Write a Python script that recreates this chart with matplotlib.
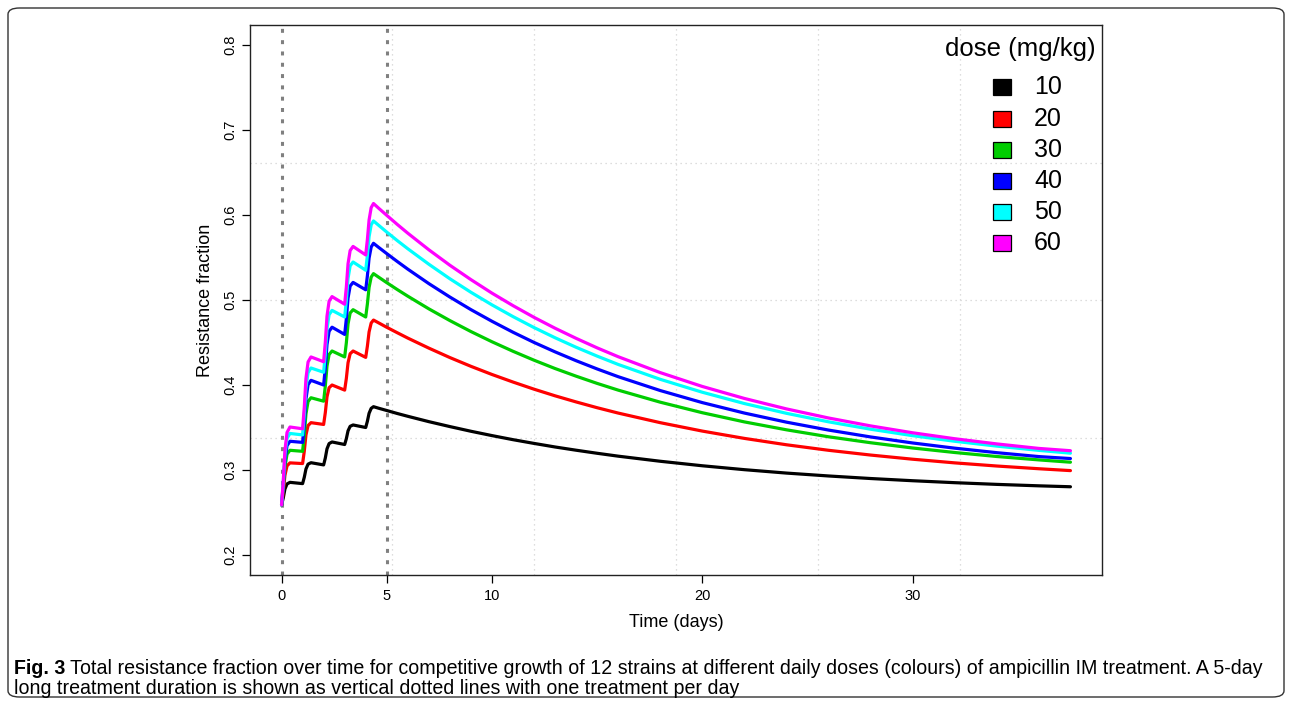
import matplotlib
matplotlib.use("Agg")
import matplotlib.pyplot as plt
from matplotlib.patches import FancyBboxPatch, Rectangle
from matplotlib import font_manager

# ---------------- data ----------------
time_days = [0.0, 0.08, 0.16, 0.26, 0.4,
             1.0, 1.08, 1.16, 1.26, 1.4,
             2.0, 2.08, 2.16, 2.26, 2.4,
             3.0, 3.08, 3.16, 3.26, 3.4,
             4.0, 4.08, 4.16, 4.26, 4.37,
             4.6, 5.0, 5.5, 6.0, 7.0, 8.0, 9.0, 10.0, 11.0, 12.0, 13.0, 14.0,
             15.0, 16.0, 18.0, 20.0, 22.0, 24.0, 26.0, 28.0, 30.0, 32.0, 34.0,
             36.0, 37.5]

frac_10 = [0.259, 0.267, 0.2776, 0.2836, 0.2855,
           0.284, 0.2914, 0.3012, 0.3069, 0.3086,
           0.306, 0.3141, 0.3249, 0.3311, 0.333,
           0.330, 0.3369, 0.3461, 0.3514, 0.353,
           0.350, 0.3574, 0.3667, 0.3725, 0.3745,
           0.3728, 0.3700, 0.3665, 0.3632, 0.3569, 0.3511, 0.3456, 0.3405, 0.3357,
           0.3313, 0.3271, 0.3233, 0.3197, 0.3163, 0.3103, 0.3050, 0.3004, 0.2964,
           0.2930, 0.2900, 0.2874, 0.2851, 0.2831, 0.2814, 0.2803]
frac_20 = [0.259, 0.2738, 0.2936, 0.3049, 0.3084,
           0.3076, 0.322, 0.3413, 0.3523, 0.3557,
           0.3536, 0.3675, 0.3861, 0.3968, 0.400,
           0.394, 0.4078, 0.4262, 0.4368, 0.440,
           0.4325, 0.4457, 0.4624, 0.4729, 0.4764,
           0.4733, 0.4679, 0.4615, 0.4552, 0.4434, 0.4323, 0.4220, 0.4124, 0.4035,
           0.3951, 0.3873, 0.3801, 0.3733, 0.3670, 0.3557, 0.3458, 0.3372, 0.3297,
           0.3232, 0.3176, 0.3127, 0.3084, 0.3047, 0.3015, 0.2993]
frac_30 = [0.259, 0.2783, 0.3039, 0.3187, 0.3232,
           0.322, 0.3409, 0.3661, 0.3806, 0.385,
           0.381, 0.3987, 0.4223, 0.4359, 0.440,
           0.433, 0.4497, 0.4719, 0.4847, 0.4886,
           0.480, 0.4953, 0.5147, 0.5269, 0.531,
           0.5271, 0.5204, 0.5123, 0.5045, 0.4896, 0.4758, 0.4629, 0.4509, 0.4397,
           0.4292, 0.4194, 0.4104, 0.4019, 0.3940, 0.3798, 0.3674, 0.3566, 0.3473,
           0.3391, 0.3321, 0.3259, 0.3206, 0.3159, 0.3119, 0.3092]
frac_40 = [0.259, 0.2814, 0.3114, 0.3286, 0.3338,
           0.3325, 0.3544, 0.3836, 0.4004, 0.4055,
           0.400, 0.4204, 0.4476, 0.4632, 0.468,
           0.4595, 0.4779, 0.5023, 0.5164, 0.5207,
           0.512, 0.5284, 0.5492, 0.5623, 0.5667,
           0.5622, 0.5546, 0.5453, 0.5363, 0.5193, 0.5035, 0.4887, 0.4750, 0.4621,
           0.4501, 0.4390, 0.4286, 0.4189, 0.4098, 0.3935, 0.3793, 0.3670, 0.3563,
           0.3470, 0.3389, 0.3318, 0.3257, 0.3204, 0.3158, 0.3135]
frac_50 = [0.259, 0.2842, 0.3178, 0.3371, 0.343,
           0.3413, 0.3649, 0.3964, 0.4145, 0.420,
           0.415, 0.4368, 0.466, 0.4827, 0.4878,
           0.480, 0.4994, 0.5253, 0.5402, 0.5447,
           0.535, 0.5524, 0.5744, 0.5884, 0.593,
           0.5882, 0.5799, 0.5699, 0.5603, 0.5421, 0.5250, 0.5091, 0.4943, 0.4805,
           0.4676, 0.4556, 0.4444, 0.4340, 0.4242, 0.4067, 0.3915, 0.3782, 0.3667,
           0.3567, 0.3480, 0.3404, 0.3338, 0.3281, 0.3231, 0.3198]
frac_60 = [0.259, 0.2865, 0.3231, 0.3442, 0.3506,
           0.3485, 0.3739, 0.4077, 0.4271, 0.433,
           0.4274, 0.4504, 0.481, 0.4986, 0.504,
           0.495, 0.5154, 0.5426, 0.5582, 0.563,
           0.553, 0.5712, 0.5941, 0.6087, 0.6135,
           0.6083, 0.5996, 0.5889, 0.5786, 0.5591, 0.5409, 0.5240, 0.5081, 0.4934,
           0.4796, 0.4668, 0.4549, 0.4437, 0.4333, 0.4146, 0.3983, 0.3842, 0.3719,
           0.3612, 0.3519, 0.3438, 0.3368, 0.3307, 0.3254, 0.3227]

doses = ["10", "20", "30", "40", "50", "60"]
series = [frac_10, frac_20, frac_30, frac_40, frac_50, frac_60]
colors = ["#000000", "#FF0000", "#00CD00", "#0000FF", "#00FFFF", "#FF00FF"]
treatment_lines = [0, 5]
x_ticks = [0, 5, 10, 20, 30]
y_ticks = [0.2, 0.3, 0.4, 0.5, 0.6, 0.7, 0.8]

# ---------------- fonts ----------------
def has_font(name):
    try:
        font_manager.findfont(name, fallback_to_default=False)
        return True
    except Exception:
        return False

SANS = "Liberation Sans" if has_font("Liberation Sans") else "DejaVu Sans"
plt.rcParams["font.family"] = [SANS, "DejaVu Sans"]

# ---------------- figure ----------------
W, H = 1292, 702
fig = plt.figure(figsize=(W / 100, H / 100), dpi=100)

def fx(px):
    return px / W

def fy(py):
    return 1 - py / H

# outer rounded frame
frame = FancyBboxPatch((fx(8), fy(697)), fx(1284) - fx(8), fy(8) - fy(697),
                       boxstyle="round,pad=0,rounding_size=0.009",
                       transform=fig.transFigure, fill=False,
                       edgecolor="#333333", linewidth=1.0)
fig.patches.append(frame)

ax = fig.add_axes([fx(250), fy(575), fx(1102) - fx(250), fy(25) - fy(575)])
xmin, xmax = -1.5, 39.0
ymin, ymax = 0.1765, 0.8235
ax.set_xlim(xmin, xmax)
ax.set_ylim(ymin, ymax)

# grid (R grid(6, 4) style)
for k in range(1, 6):
    ax.axvline(xmin + (xmax - xmin) * k / 6, color="#D3D3D3", lw=0.9,
               ls=(0, (1, 3)), zorder=1)
for k in range(1, 4):
    ax.axhline(ymin + (ymax - ymin) * k / 4, color="#D3D3D3", lw=0.9,
               ls=(0, (1, 3)), zorder=1)

for xv in treatment_lines:
    ax.axvline(xv, color="#808080", lw=2.2, ls=(0, (1.3, 2.4)), zorder=2)

for vals, c in zip(series, colors):
    ax.plot(time_days, vals, color=c, lw=2.3, solid_joinstyle="round",
            solid_capstyle="round", zorder=3)

ax.set_xticks(x_ticks)
ax.set_xticklabels([str(v) for v in x_ticks], fontsize=10.5)
ax.set_yticks(y_ticks)
ax.set_yticklabels(["%.1f" % v for v in y_ticks], fontsize=10.5,
                   rotation=90, va="center")
ax.tick_params(direction="out", length=6, width=0.9, pad=4)
ax.tick_params(axis="y", pad=3)
for s in ax.spines.values():
    s.set_linewidth(1.0)
    s.set_color("#222222")

ax.set_xlabel("Time (days)", fontsize=13, labelpad=8)
ax.set_ylabel("Resistance fraction", fontsize=13, labelpad=7)

# legend (manual, R style)
fig.text(fx(1096), fy(49), "dose (mg/kg)", fontsize=18.5, ha="right",
         va="center")
row_y = [87, 119, 150, 181, 212, 243]
for yy, lab, c in zip(row_y, doses, colors):
    fig.patches.append(Rectangle((fx(992.5), fy(yy + 8)), fx(18.5), 16 / H,
                                 transform=fig.transFigure, facecolor=c,
                                 edgecolor="#000000", linewidth=0.9))
    fig.text(fx(1034), fy(yy), lab, fontsize=18, ha="left", va="center")

# caption
cap1_y, cap2_y = 668, 689
CAPSIZE = 14.1
t_bold = fig.text(fx(14), fy(cap1_y), "Fig. 3", fontsize=CAPSIZE, fontweight="bold",
                  ha="left", va="center")
fig.canvas.draw()
bb = t_bold.get_window_extent()
fig.text((bb.x1 + 5) / W, fy(cap1_y),
         "Total resistance fraction over time for competitive growth of 12 strains at "
         "different daily doses (colours) of ampicillin IM treatment. A 5-day",
         fontsize=CAPSIZE, ha="left", va="center")
fig.text(fx(14), fy(cap2_y),
         "long treatment duration is shown as vertical dotted lines with one treatment per day",
         fontsize=CAPSIZE, ha="left", va="center")

fig.savefig("out.png", dpi=100)
